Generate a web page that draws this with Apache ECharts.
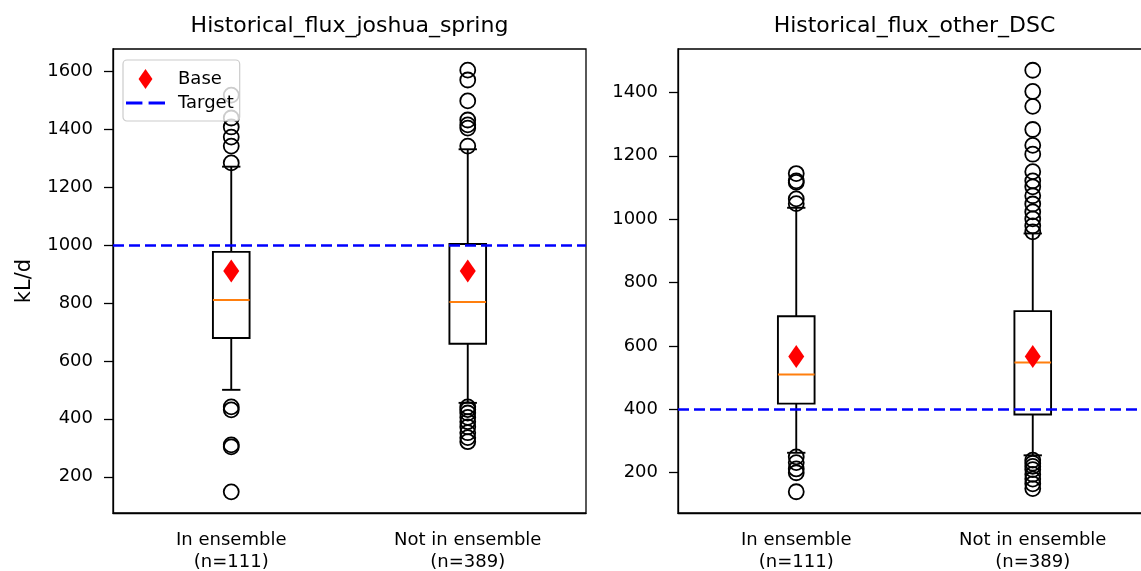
<!DOCTYPE html>
<html>
<head>
<meta charset="utf-8">
<script src="https://cdn.jsdelivr.net/npm/echarts@6/dist/echarts.min.js"></script>
<style>
html,body{margin:0;padding:0;background:#fff;overflow:hidden;width:1141px;height:571px;}
#chart{width:1141px;height:571px;}
</style>
</head>
<body>
<div id="chart"></div>
<script>
// ---- data ----
const categories = ['In ensemble\n(n=111)', 'Not in ensemble\n(n=389)'];
const panelTitles = ['Historical_flux_joshua_spring', 'Historical_flux_other_DSC'];
// [lower whisker, Q1, median, Q3, upper whisker]
const joshuaBox = [[500, 679, 810, 976, 1270], [455, 659, 803, 1003, 1330]];
const joshuaOutliers = [
  [1517, 1438, 1407, 1372, 1341, 1283, 441, 431, 310, 303, 148],
  [1603, 1569, 1497, 1431, 1414, 1403, 1341, 441, 432, 420, 405, 390, 372, 352, 335, 321]
];
const joshuaBase = [910, 910];
const joshuaTarget = 1000;

const otherBox = [[263, 418, 510, 694, 1036], [255, 384, 548, 710, 955]];
const otherOutliers = [
  [1144, 1121, 1116, 1064, 1049, 250, 232, 212, 200, 140],
  [1470, 1403, 1356, 1283, 1233, 1205, 1150, 1121, 1102, 1074, 1048, 1023, 1001, 979, 960, 240, 230, 220, 210, 195, 180, 165, 150]
];
const otherBase = [567, 567];
const otherTarget = 400;

const joshuaTicks = [200, 400, 600, 800, 1000, 1200, 1400, 1600];
const otherTicks = [200, 400, 600, 800, 1000, 1200, 1400];

// ---- chart ----
const FONT = 'DejaVu Sans';
const chart = echarts.init(document.getElementById('chart'), null, {renderer: 'canvas'});

function boxData(box) {
  return box.map((b, i) => [i].concat(b));
}
function outlierData(out) {
  const r = [];
  out.forEach((arr, i) => arr.forEach(v => r.push([i, v])));
  return r;
}
function baseData(base) {
  return base.map((v, i) => [i, v]);
}

function renderBox(params, api) {
  const x = api.value(0);
  const low = api.coord([x, api.value(1)]);
  const q1 = api.coord([x, api.value(2)]);
  const med = api.coord([x, api.value(3)]);
  const q3 = api.coord([x, api.value(4)]);
  const high = api.coord([x, api.value(5)]);
  const band = api.size([1, 0])[0];
  const bw = band * 0.155;
  const cw = bw / 2;
  const cx = q1[0];
  const ls = {stroke: '#000', lineWidth: 1.9, fill: null};
  return {
    type: 'group',
    children: [
      {type: 'line', shape: {x1: cx, y1: q3[1], x2: cx, y2: high[1]}, style: ls},
      {type: 'line', shape: {x1: cx - cw / 2, y1: high[1], x2: cx + cw / 2, y2: high[1]}, style: ls},
      {type: 'line', shape: {x1: cx, y1: q1[1], x2: cx, y2: low[1]}, style: ls},
      {type: 'line', shape: {x1: cx - cw / 2, y1: low[1], x2: cx + cw / 2, y2: low[1]}, style: ls},
      {type: 'rect', shape: {x: cx - bw / 2, y: q3[1], width: bw, height: q1[1] - q3[1]}, style: {stroke: '#000', lineWidth: 1.9, fill: 'rgba(0,0,0,0)'}},
      {type: 'line', shape: {x1: cx - bw / 2, y1: med[1], x2: cx + bw / 2, y2: med[1]}, style: {stroke: '#ff7f0e', lineWidth: 1.9}}
    ]
  };
}

function xAxisCfg(gi) {
  return {
    type: 'category', gridIndex: gi, data: categories, boundaryGap: true,
    axisLine: {lineStyle: {color: '#000', width: 1.3}},
    axisTick: {alignWithLabel: true, length: 9, lineStyle: {color: '#000', width: 1.3}},
    axisLabel: {color: '#000', fontFamily: FONT, fontSize: 18, lineHeight: 22, margin: 16, interval: 0},
    splitLine: {show: false}
  };
}
function yAxisCfg(gi, min, max, ticks, name) {
  return {
    type: 'value', gridIndex: gi, min: min, max: max,
    name: name || '', nameLocation: 'middle', nameGap: 78, nameRotate: 90,
    nameTextStyle: {color: '#000', fontFamily: FONT, fontSize: 21},
    axisLine: {show: true, lineStyle: {color: '#000', width: 1.3}},
    axisTick: {show: true, length: 9, lineStyle: {color: '#000', width: 1.3}, customValues: ticks},
    axisLabel: {color: '#000', fontFamily: FONT, fontSize: 18, margin: 20, customValues: ticks,
                formatter: v => String(v)},
    splitLine: {show: false}
  };
}

const series = [];
[[joshuaBox, joshuaOutliers, joshuaBase, joshuaTarget], [otherBox, otherOutliers, otherBase, otherTarget]].forEach((p, gi) => {
  series.push({
    type: 'custom', xAxisIndex: gi, yAxisIndex: gi, renderItem: renderBox,
    data: boxData(p[0]), z: 2, silent: true,
    encode: {x: 0, y: [1, 2, 3, 4, 5]}
  });
  series.push({
    type: 'scatter', xAxisIndex: gi, yAxisIndex: gi, data: outlierData(p[1]),
    symbol: 'circle', symbolSize: 15, z: 3, silent: true,
    itemStyle: {color: 'rgba(0,0,0,0)', borderColor: '#000', borderWidth: 1.8, opacity: 1}
  });
  series.push({
    name: 'Base', type: 'scatter', xAxisIndex: gi, yAxisIndex: gi, data: baseData(p[2]),
    symbol: 'diamond', symbolSize: [16, 23], z: 4, silent: true,
    itemStyle: {color: '#ff0000', opacity: 1}
  });
  series.push({
    name: 'Target', type: 'line', xAxisIndex: gi, yAxisIndex: gi, data: [],
    symbol: 'none', z: 5, silent: true,
    lineStyle: {color: '#0000ff', type: [11, 5], width: 2.5},
    itemStyle: {color: '#0000ff'},
    markLine: {
      symbol: ['none', 'none'], silent: true, label: {show: false},
      lineStyle: {color: '#0000ff', type: [11, 5], width: 2.5},
      emphasis: {disabled: true},
      data: [{yAxis: p[3]}]
    }
  });
});

const option = {
  animation: false,
  backgroundColor: '#fff',
  title: [
    {text: panelTitles[0], left: 349.5, top: 15, textAlign: 'center', padding: 0,
     textStyle: {fontFamily: FONT, fontSize: 22, fontWeight: 'normal', color: '#000'}},
    {text: panelTitles[1], left: 914.5, top: 15, textAlign: 'center', padding: 0,
     textStyle: {fontFamily: FONT, fontSize: 22, fontWeight: 'normal', color: '#000'}}
  ],
  grid: [
    {left: 113, top: 49, width: 473, height: 464, show: true, borderColor: '#000', borderWidth: 1.3,
     backgroundColor: 'transparent', outerBoundsMode: 'none', containLabel: false},
    {left: 678, top: 49, width: 473, height: 464, show: true, borderColor: '#000', borderWidth: 1.3,
     backgroundColor: 'transparent', outerBoundsMode: 'none', containLabel: false}
  ],
  xAxis: [xAxisCfg(0), xAxisCfg(1)],
  yAxis: [
    yAxisCfg(0, 75, 1676, joshuaTicks, 'kL/d'),
    yAxisCfg(1, 73, 1537, otherTicks, '')
  ],
  legend: {
    data: [
      {name: 'Base', icon: 'path://M8,0 L16,11.5 L8,23 L0,11.5 Z', itemStyle: {color: '#ff0000', opacity: 1}},
      {name: 'Target', icon: 'path://M0,0 H16 V3 H0 Z M22,0 H38 V3 H22 Z', itemStyle: {color: '#0000ff', opacity: 1}}
    ],
    orient: 'vertical', left: 123, top: 60,
    padding: [9, 6, 9, 3], itemGap: 5, itemWidth: 39, itemHeight: 20,
    backgroundColor: 'rgba(255,255,255,0.8)', borderColor: '#cccccc', borderWidth: 1.2, borderRadius: 4,
    selectedMode: false,
    textStyle: {fontFamily: FONT, fontSize: 18, color: '#000', padding: [0, 0, 0, 8]}
  },
  series: series
};
chart.setOption(option);
</script>
</body>
</html>
